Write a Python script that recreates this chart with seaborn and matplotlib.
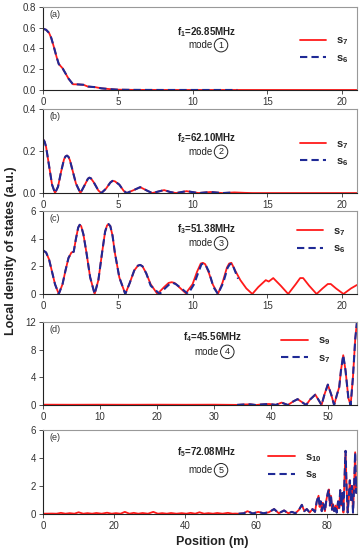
import matplotlib
matplotlib.use("Agg")
import matplotlib.pyplot as plt
import seaborn as sns

# Panel (a): f1 = 26.85 MHz, mode 1
a_x_red = [0, 0.2, 0.4, 0.55, 0.75, 0.9, 1.05, 1.3, 1.5, 1.7, 2.0, 2.3, 2.7, 3.0, 3.5, 3.9, 4.5, 5.0, 6, 8, 10, 13, 15, 21]
a_y_red = [0.59, 0.58, 0.55, 0.50, 0.40, 0.32, 0.25, 0.21, 0.16, 0.11, 0.055, 0.054, 0.05, 0.033, 0.027, 0.016, 0.008, 0.003, 0.001, 0, 0, 0, 0, 0]
a_x_blue = a_x_red[:22]
a_y_blue = a_y_red[:22]

# Panel (b): f2 = 62.10 MHz, mode 2
b_x_red = [0, 0.1, 0.2, 0.4, 0.6, 0.8, 1.0, 1.2, 1.4, 1.5, 1.6, 1.7, 1.8, 2.0, 2.2, 2.5, 2.8, 3.0, 3.1, 3.2, 3.4, 3.7, 3.9,
           4.2, 4.5, 4.65, 4.8, 5.1, 5.4, 5.6, 6.0, 6.5, 7.0, 7.3, 7.7, 8.1, 8.5, 8.9, 9.6, 10.4, 11.2, 12.0, 12.8, 13.5, 14, 21]
b_y_red = [0.255, 0.245, 0.22, 0.13, 0.04, 0.0, 0.03, 0.10, 0.16, 0.174, 0.178, 0.172, 0.155, 0.10, 0.045, 0.0, 0.04, 0.068, 0.073, 0.07, 0.05, 0.012, 0.0,
           0.02, 0.05, 0.058, 0.056, 0.04, 0.01, 0.0, 0.012, 0.028, 0.01, 0.0, 0.007, 0.014, 0.005, 0.0, 0.009, 0.0, 0.005, 0.0, 0.003, 0.001, 0, 0]
b_x_blue = b_x_red[:43]
b_y_blue = b_y_red[:43]

# Panel (c): f3 = 51.38 MHz, mode 3
c_x_red = [0, 0.2, 0.4, 0.6, 0.8, 1.05, 1.3, 1.5, 1.7, 1.9, 2.05, 2.2, 2.35, 2.45, 2.55, 2.7, 2.9, 3.15, 3.45, 3.7, 3.95, 4.15,
           4.28, 4.38, 4.5, 4.65, 4.8, 5.1, 5.5, 5.8, 6.1, 6.35, 6.5, 6.65, 6.9, 7.2, 7.65, 8.1, 8.4, 8.6, 8.8, 9.1, 9.55,
           10.0, 10.3, 10.55, 10.7, 10.85, 11.1, 11.35, 11.7, 12.0, 12.3, 12.45, 12.6, 12.85, 13.2, 13.6, 14.0, 14.4,
           14.9, 15.1, 15.4, 15.9, 16.4, 16.9, 17.2, 17.4, 17.8, 18.3, 18.7, 19.05, 19.25, 19.6, 20.1, 20.6, 21.0]
c_y_red = [3.15, 3.0, 2.5, 1.6, 0.7, 0.0, 0.7, 1.7, 2.6, 3.0, 3.05, 4.0, 4.8, 5.0, 4.9, 4.3, 3.0, 1.2, 0.0, 1.0, 3.0, 4.5,
           4.95, 5.05, 4.9, 4.2, 3.0, 1.2, 0.0, 0.8, 1.7, 2.05, 2.1, 2.0, 1.5, 0.7, 0.0, 0.5, 0.8, 0.85, 0.8, 0.5, 0.05,
           0.7, 1.6, 2.2, 2.25, 2.15, 1.5, 0.7, 0.0, 0.8, 1.9, 2.2, 2.25, 1.7, 1.0, 0.4, 0.0, 0.5,
           1.0, 0.9, 1.15, 0.6, 0.0, 0.7, 1.15, 1.15, 0.6, 0.0, 0.4, 0.72, 0.72, 0.4, 0.0, 0.4, 0.65]
c_x_blue = [0, 0.2, 0.4, 0.6, 0.8, 1.05, 1.3, 1.5, 1.7, 1.9, 2.05, 2.2, 2.35, 2.45, 2.55, 2.7, 2.9, 3.15, 3.45, 3.7, 3.95, 4.15,
            4.28, 4.38, 4.5, 4.65, 4.8, 5.1, 5.5, 5.8, 6.1, 6.35, 6.5, 6.65, 6.9, 7.2, 7.8, 8.2, 8.5, 8.7, 8.9, 9.2, 9.7,
            10.1, 10.4, 10.6, 10.75, 10.9, 11.1, 11.4, 11.7, 12.05, 12.35, 12.5, 12.65, 12.9, 13.05]
c_y_blue = [3.15, 3.0, 2.5, 1.6, 0.7, 0.0, 0.7, 1.7, 2.6, 3.0, 3.05, 4.0, 4.8, 5.0, 4.9, 4.3, 3.0, 1.2, 0.0, 1.0, 3.0, 4.5,
            4.95, 5.05, 4.9, 4.2, 3.0, 1.2, 0.0, 0.8, 1.7, 2.05, 2.1, 2.0, 1.5, 0.6, 0.0, 0.45, 0.75, 0.8, 0.7, 0.45, 0.0,
            0.7, 1.6, 2.15, 2.2, 2.05, 1.6, 0.5, 0.0, 0.8, 1.9, 2.15, 2.2, 1.5, 1.1]

# Panel (d): f4 = 45.56 MHz, mode 4
d_x_blue = [34, 35.2, 36.3, 37.3, 38.2, 39.6, 40.8, 41.8, 42.9, 43.8, 44.6, 45.4, 46.1, 46.8, 47.7, 48.3, 48.8, 49.3,
            49.9, 50.5, 51.0, 51.5, 51.9, 52.2, 52.6, 53.0, 53.5, 53.9, 54.3, 54.7, 55.0]
d_y_blue = [0.02, 0.08, 0.1, 0.0, 0.08, 0.15, 0.02, 0.35, 0.0, 0.5, 0.85, 0.4, 0.0, 0.8, 1.5, 0.7, 0.0, 1.5,
            2.95, 1.5, 0.0, 1.5, 2.6, 5.0, 7.2, 5.0, 1.0, 0.0, 4.0, 9.5, 12.0]
d_x_red = [0, 5, 10, 15, 20, 25, 30] + d_x_blue
d_y_red = [0.05, 0.04, 0.05, 0.04, 0.05, 0.04, 0.05] + d_y_blue

# Panel (e): f5 = 72.08 MHz, mode 5
e_x_tail = [55, 56.5, 57.5, 59, 60.5, 62, 63.5, 65, 66.3, 67.8, 69, 70, 71, 72, 72.8, 73.5, 74.2, 75, 75.8, 76.5,
            77.0, 77.5, 77.8, 78.1, 78.4, 78.7, 79.0, 79.3, 79.7, 80.1, 80.4, 80.7, 81.0, 81.3, 81.6, 81.9, 82.3,
            82.6, 83.0, 83.3, 83.6, 83.9, 84.2, 84.5, 84.8, 85.1, 85.4, 85.7, 86.0, 86.3, 86.6, 86.9, 87.2, 87.5,
            87.8, 88.1, 88.3]
e_y_tail = [0.02, 0.05, 0.2, 0.03, 0.15, 0.05, 0.12, 0.35, 0.05, 0.25, 0.05, 0.15, 0.05, 0.3, 0.65, 0.2, 0.35, 0.1, 0.35, 0.15,
            0.9, 1.3, 0.5, 0.9, 0.2, 0.8, 0.6, 0.2, 1.0, 1.5, 1.75, 0.6, 1.3, 0.3, 0.7, 0.2, 0.6,
            0.1, 0.9, 0.4, 1.7, 0.6, 1.5, 0.1, 2.5, 4.5, 1.8, 0.1, 1.2, 2.4, 1.0, 2.0, 0.1, 2.0,
            4.4, 1.5, 2.5]
e_x_red = [0, 2.5, 3.8, 5, 6.3, 7.5, 8.8, 10, 11.3, 12.5, 13.8, 15, 16.5, 18, 19.3, 20.5, 21.8, 23, 24.3, 25.5, 26.8,
           28, 29.5, 31, 32.3, 33.5, 34.8, 36, 37.5, 39, 40.3, 41.5, 42.8, 44, 45.3, 46.5, 47.8, 49, 50.5, 52,
           53.3, 54] + e_x_tail
e_y_red = [0.02, 0.03, 0.02, 0.08, 0.02, 0.06, 0.02, 0.12, 0.02, 0.06, 0.02, 0.07, 0.02, 0.09, 0.02, 0.06, 0.02, 0.15, 0.02, 0.08, 0.02,
           0.07, 0.02, 0.15, 0.02, 0.06, 0.02, 0.07, 0.02, 0.06, 0.02, 0.08, 0.02, 0.12, 0.02, 0.06, 0.02, 0.07, 0.02, 0.08,
           0.02, 0.03] + e_y_tail
e_x_blue = e_x_tail
e_y_blue = e_y_tail

panels = [
    dict(tag="(a)", xr=a_x_red, yr=a_y_red, xb=a_x_blue, yb=a_y_blue, f="1", freq="26.85", red="7", blue="6",
         xlim=(0, 21), xticks=[0, 5, 10, 15, 20], ylim=(0, 0.8), yticks=[0, 0.2, 0.4, 0.6, 0.8], yfmt="{:.1f}",
         ftxt=(0.52, 0.70, 0.54), leg=(0.80, 0.48), rect=[0.119, 0.8364, 0.867, 0.151]),
    dict(tag="(b)", xr=b_x_red, yr=b_y_red, xb=b_x_blue, yb=b_y_blue, f="2", freq="62.10", red="7", blue="6",
         xlim=(0, 21), xticks=[0, 5, 10, 15, 20], ylim=(0, 0.4), yticks=[0, 0.2, 0.4], yfmt="{:.1f}",
         ftxt=(0.52, 0.65, 0.49), leg=(0.80, 0.47), rect=[0.119, 0.649, 0.867, 0.153]),
    dict(tag="(c)", xr=c_x_red, yr=c_y_red, xb=c_x_blue, yb=c_y_blue, f="3", freq="51.38", red="7", blue="6",
         xlim=(0, 21), xticks=[0, 5, 10, 15, 20], ylim=(0, 6), yticks=[0, 2, 4, 6], yfmt="{:.0f}",
         ftxt=(0.52, 0.78, 0.61), leg=(0.79, 0.64), rect=[0.119, 0.4655, 0.867, 0.151]),
    dict(tag="(d)", xr=d_x_red, yr=d_y_red, xb=d_x_blue, yb=d_y_blue, f="4", freq="45.56", red="9", blue="7",
         xlim=(0, 55), xticks=[0, 10, 20, 30, 40, 50], ylim=(0, 12), yticks=[0, 4, 8, 12], yfmt="{:.0f}",
         ftxt=(0.54, 0.82, 0.64), leg=(0.74, 0.66), rect=[0.119, 0.2636, 0.867, 0.151]),
    dict(tag="(e)", xr=e_x_red, yr=e_y_red, xb=e_x_blue, yb=e_y_blue, f="5", freq="72.08", red="10", blue="8",
         xlim=(0, 88.3), xticks=[0, 20, 40, 60, 80], ylim=(0, 6), yticks=[0, 2, 4, 6], yfmt="{:.0f}",
         ftxt=(0.52, 0.74, 0.52), leg=(0.70, 0.56), rect=[0.119, 0.0655, 0.867, 0.153]),
]

sns.set_style("ticks")
plt.rcParams['font.family'] = ['Liberation Sans', 'DejaVu Sans']
plt.rcParams['mathtext.fontset'] = 'custom'
plt.rcParams['mathtext.rm'] = 'Liberation Sans'
plt.rcParams['mathtext.bf'] = 'Liberation Sans:bold'
plt.rcParams['mathtext.it'] = 'Liberation Sans:italic'

red = '#ff1a1a'
blue = '#1f2a96'

fig = plt.figure(figsize=(3.62, 5.5), dpi=100)

for p in panels:
    ax = fig.add_axes(p["rect"])
    sns.lineplot(x=p["xr"], y=p["yr"], ax=ax, color=red, linewidth=1.3,
                 label=r'$\mathbf{s_{%s}}$' % p["red"], estimator=None, sort=False)
    sns.lineplot(x=p["xb"], y=p["yb"], ax=ax, color=blue, linewidth=1.5, linestyle='--',
                 dashes=False, label=r'$\mathbf{s_{%s}}$' % p["blue"], estimator=None, sort=False)
    ax.lines[1].set_dashes([3.5, 2])
    ax.set_xlim(*p["xlim"])
    ax.set_ylim(*p["ylim"])
    ax.set_xticks(p["xticks"])
    ax.set_yticks(p["yticks"])
    ax.set_yticklabels([p["yfmt"].format(v) for v in p["yticks"]])
    ax.tick_params(labelsize=7, length=3, width=0.6, colors='#333333', pad=2)
    for side in ["left", "bottom"]:
        ax.spines[side].set_color('#222222')
        ax.spines[side].set_linewidth(0.8)
    for side in ["top", "right"]:
        ax.spines[side].set_visible(True)
        ax.spines[side].set_color('#999999')
        ax.spines[side].set_linewidth(0.8)

    ax.text(0.02, 0.88, p["tag"], transform=ax.transAxes, fontsize=6.5, color='#333333')
    fx, fy, my = p["ftxt"]
    ax.text(fx, fy, r'$\mathbf{f_{%s}}$' % p["f"] + '=' + p["freq"] + 'MHz', transform=ax.transAxes,
            fontsize=7, fontweight='bold', ha='center', va='center', color='#222222')
    ax.text(fx + 0.02, my, 'mode', transform=ax.transAxes, fontsize=7, ha='right', va='center', color='#222222')
    ax.text(fx + 0.047, my, p["f"], transform=ax.transAxes, fontsize=6.5, ha='center', va='center', color='#222222',
            bbox=dict(boxstyle='circle,pad=0.25', fc='none', ec='#222222', lw=0.7))

    ax.legend(loc='center left', bbox_to_anchor=p["leg"], frameon=False, fontsize=8,
              handlelength=2.4, handletextpad=0.9, labelspacing=0.5, borderpad=0)
    ax.set_xlabel('')
    ax.set_ylabel('')

fig.text(0.03, 0.545, 'Local density of states (a.u.)', rotation=90, ha='center', va='center',
         fontsize=9, fontweight='bold', color='#222222')
fig.text(0.585, 0.015, 'Position (m)', ha='center', va='center', fontsize=9, fontweight='bold', color='#222222')

fig.savefig('out.png', dpi=100)
